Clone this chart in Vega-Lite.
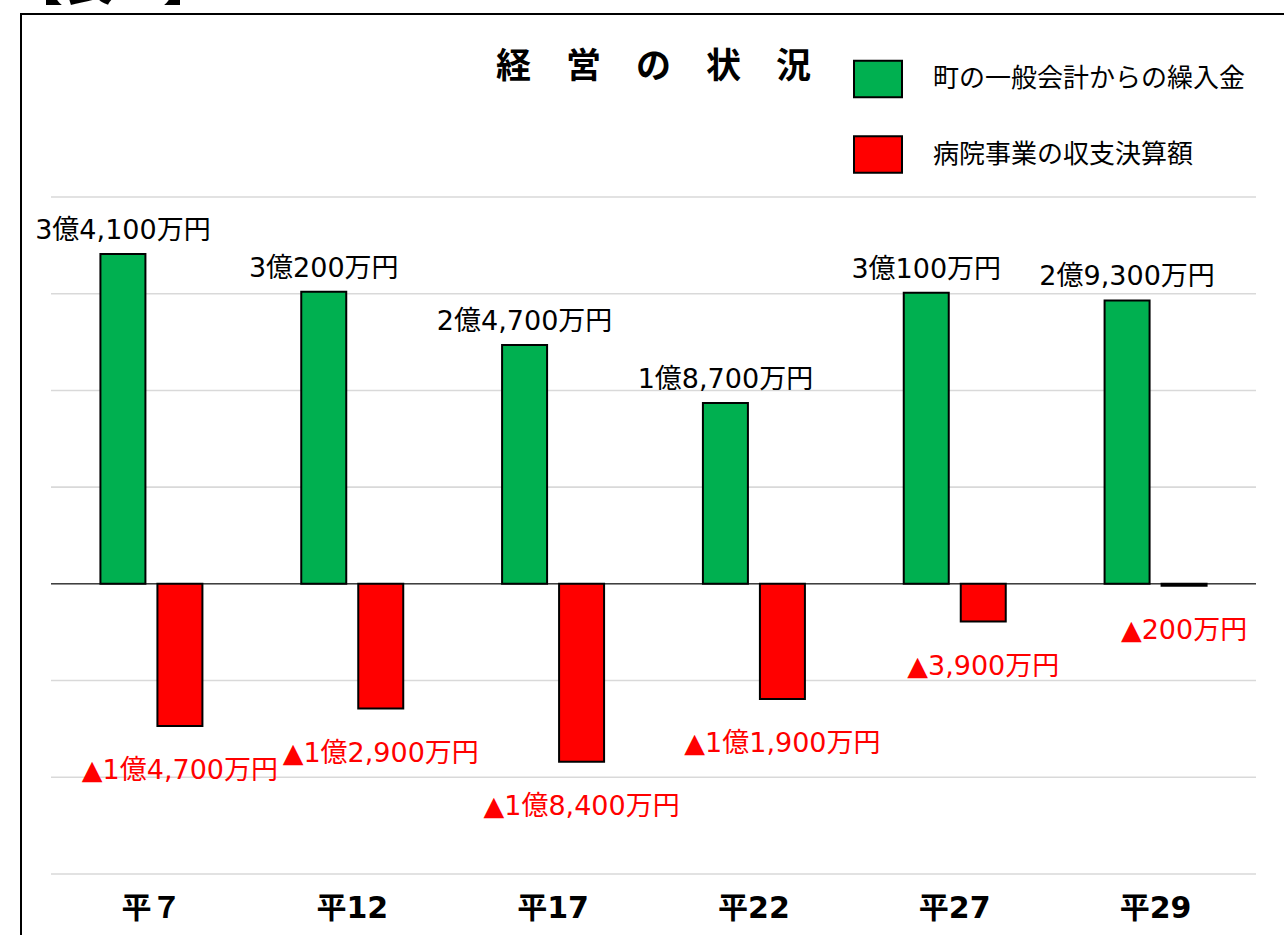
{
  "$schema": "https://vega.github.io/schema/vega-lite/v6.json",
  "width": 1265,
  "height": 946,
  "autosize": {"type": "none"},
  "padding": {"left": 21, "top": 14, "right": 0, "bottom": 0},
  "background": "white",
  "config": {"view": {"stroke": "black", "strokeWidth": 2}, "font": "Noto Sans CJK JP"},
  "title": {
    "text": "経　営　の　状　況",
    "anchor": "middle",
    "frame": "group",
    "orient": "top",
    "offset": 0,
    "baseline": "middle",
    "dy": 142,
    "font": "Noto Sans CJK JP",
    "fontSize": 35,
    "fontWeight": "bold",
    "color": "black"
  },
  "datasets": {
    "bars": [
      {"year": "平７", "series": "町の一般会計からの繰入金", "value": 34100, "label": "3億4,100万円"},
      {"year": "平７", "series": "病院事業の収支決算額", "value": -14700, "label": "▲1億4,700万円"},
      {"year": "平12", "series": "町の一般会計からの繰入金", "value": 30200, "label": "3億200万円"},
      {"year": "平12", "series": "病院事業の収支決算額", "value": -12900, "label": "▲1億2,900万円"},
      {"year": "平17", "series": "町の一般会計からの繰入金", "value": 24700, "label": "2億4,700万円"},
      {"year": "平17", "series": "病院事業の収支決算額", "value": -18400, "label": "▲1億8,400万円"},
      {"year": "平22", "series": "町の一般会計からの繰入金", "value": 18700, "label": "1億8,700万円"},
      {"year": "平22", "series": "病院事業の収支決算額", "value": -11900, "label": "▲1億1,900万円"},
      {"year": "平27", "series": "町の一般会計からの繰入金", "value": 30100, "label": "3億100万円"},
      {"year": "平27", "series": "病院事業の収支決算額", "value": -3900, "label": "▲3,900万円"},
      {"year": "平29", "series": "町の一般会計からの繰入金", "value": 29300, "label": "2億9,300万円"},
      {"year": "平29", "series": "病院事業の収支決算額", "value": -200, "label": "▲200万円"}
    ],
    "years": [
      {"year": "平７"}, {"year": "平12"}, {"year": "平17"}, {"year": "平22"}, {"year": "平27"}, {"year": "平29"}
    ],
    "grid": [
      {"g": -30000}, {"g": -20000}, {"g": -10000}, {"g": 0},
      {"g": 10000}, {"g": 20000}, {"g": 30000}, {"g": 40000}
    ],
    "header": [{"t": "【表２】"}]
  },
  "layer": [
    {
      "data": {"name": "grid"},
      "mark": {"type": "rule", "color": "#d9d9d9", "strokeWidth": 1.6},
      "encoding": {
        "y": {"field": "g", "type": "quantitative", "axis": null,
              "scale": {"domain": [-38892, 58922], "nice": false, "zero": false}},
        "x": {"datum": "平７", "type": "nominal", "bandPosition": 0, "axis": null},
        "x2": {"datum": "平29", "bandPosition": 1}
      }
    },
    {
      "data": {"name": "grid"},
      "transform": [{"filter": "datum.g === 0"}],
      "mark": {"type": "rule", "color": "#404040", "strokeWidth": 1.5},
      "encoding": {
        "y": {"field": "g", "type": "quantitative", "axis": null},
        "x": {"datum": "平７", "type": "nominal", "bandPosition": 0, "axis": null},
        "x2": {"datum": "平29", "bandPosition": 1}
      }
    },
    {
      "data": {"name": "bars"},
      "mark": {"type": "bar", "stroke": "black", "strokeWidth": 2},
      "encoding": {
        "x": {
          "field": "year", "type": "nominal",
          "scale": {"domain": ["平７", "平12", "平17", "平22", "平27", "平29"], "paddingInner": 0, "paddingOuter": 0.1494},
          "axis": null
        },
        "xOffset": {
          "field": "series", "type": "nominal",
          "scale": {"domain": ["町の一般会計からの繰入金", "病院事業の収支決算額"], "paddingInner": 0.2105, "paddingOuter": 0.867}
        },
        "y": {"field": "value", "type": "quantitative", "axis": null},
        "y2": {"datum": 0},
        "color": {
          "field": "series", "type": "nominal",
          "scale": {"domain": ["町の一般会計からの繰入金", "病院事業の収支決算額"], "range": ["#00b050", "#ff0000"]},
          "legend": {
            "title": null, "orient": "none", "legendX": 832, "legendY": 40, "direction": "vertical",
            "symbolType": "M-1,-0.76H1V0.76H-1Z", "symbolSize": 2304,
            "symbolStrokeColor": "black", "symbolStrokeWidth": 2, "symbolOpacity": 1,
            "labelFont": "Noto Sans CJK JP", "labelFontSize": 26, "labelColor": "black",
            "labelOffset": 30, "rowPadding": 27.5, "padding": 0, "labelLimit": 600
          }
        }
      }
    },
    {
      "data": {"name": "bars"},
      "transform": [{"filter": "datum.value > 0"}],
      "mark": {"type": "text", "baseline": "middle", "dy": -23, "font": "'DejaVu Sans', 'Noto Sans CJK JP'", "fontSize": 27, "color": "black"},
      "encoding": {
        "x": {"field": "year", "type": "nominal", "axis": null},
        "xOffset": {"field": "series", "type": "nominal"},
        "y": {"field": "value", "type": "quantitative", "axis": null},
        "text": {"field": "label"}
      }
    },
    {
      "data": {"name": "bars"},
      "transform": [{"filter": "datum.value < 0"}],
      "mark": {"type": "text", "baseline": "middle", "dy": 45, "font": "'DejaVu Sans', 'Noto Sans CJK JP'", "fontSize": 27, "color": "#ff0000"},
      "encoding": {
        "x": {"field": "year", "type": "nominal", "axis": null},
        "xOffset": {"field": "series", "type": "nominal"},
        "y": {"field": "value", "type": "quantitative", "axis": null},
        "text": {"field": "label"}
      }
    },
    {
      "data": {"name": "years"},
      "mark": {"type": "text", "baseline": "middle", "font": "'DejaVu Sans', 'Noto Sans CJK JP'", "fontSize": 30, "fontWeight": "bold", "color": "black"},
      "encoding": {
        "x": {"field": "year", "type": "nominal", "axis": null},
        "y": {"datum": -33600, "type": "quantitative", "axis": null},
        "text": {"field": "year"}
      }
    },
    {
      "data": {"name": "header"},
      "mark": {"type": "text", "align": "left", "baseline": "alphabetic", "dx": -38, "font": "Noto Sans CJK JP", "fontSize": 50, "fontWeight": "bold", "color": "black"},
      "encoding": {
        "x": {"datum": "平７", "type": "nominal", "bandPosition": 0, "axis": null},
        "y": {"datum": 60411, "type": "quantitative", "axis": null},
        "text": {"field": "t"}
      }
    }
  ]
}
